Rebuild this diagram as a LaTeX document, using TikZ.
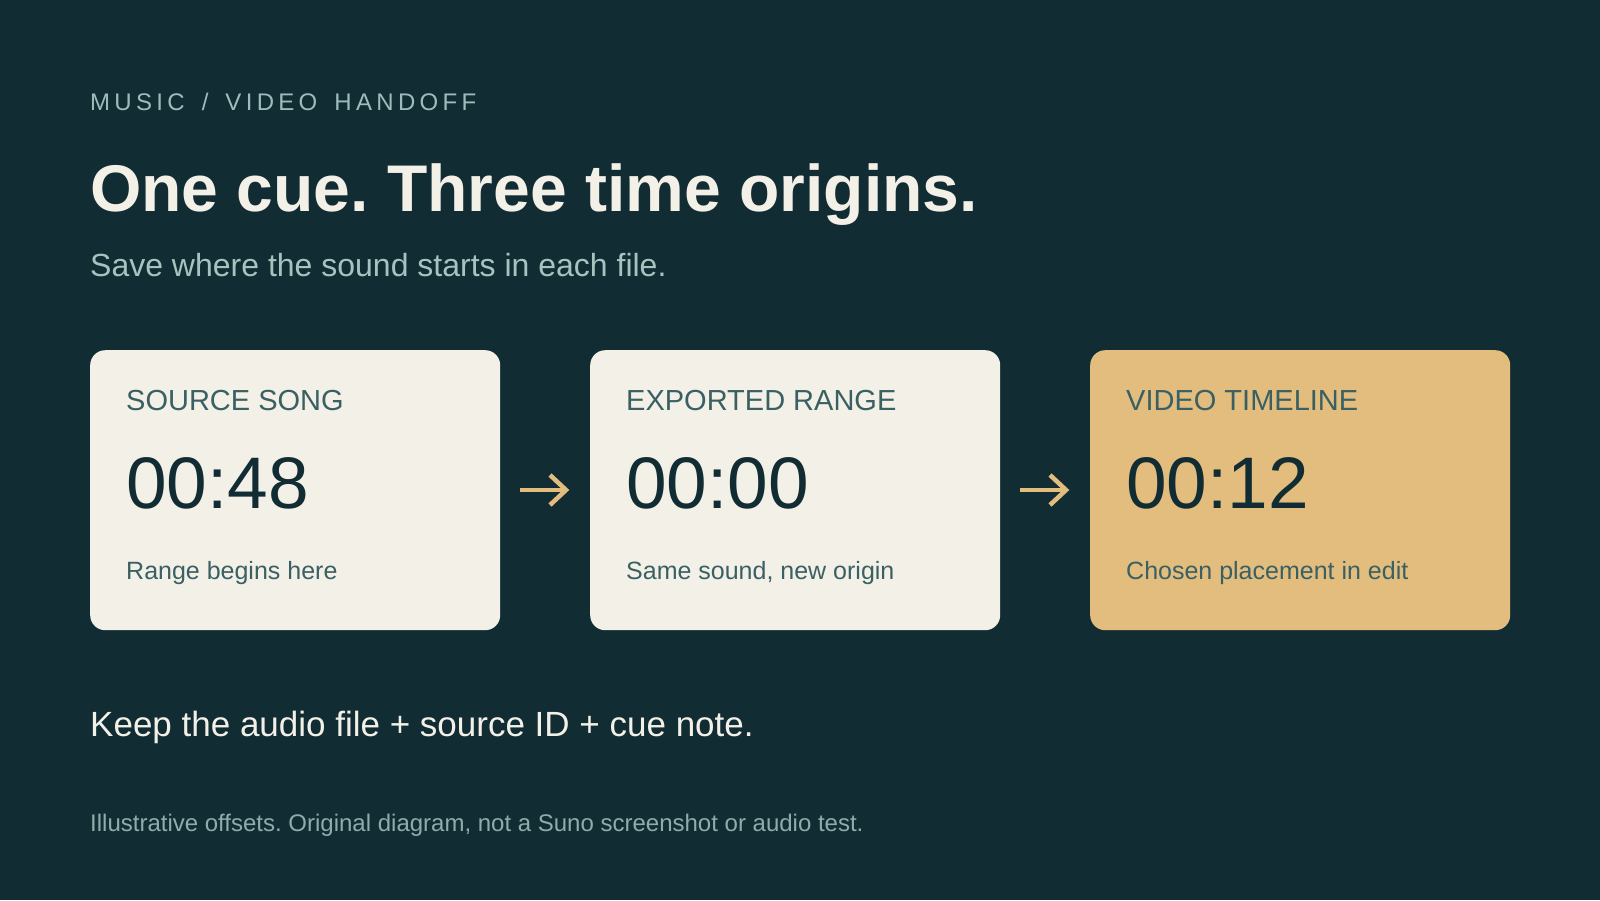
\documentclass[tikz,border=0pt]{standalone}
\usepackage{fontspec}
\setmainfont{Liberation Sans}
\newfontfamily\spacedfont[LetterSpace=18]{Liberation Sans}
\frenchspacing
\definecolor{bg}{HTML}{122C34}
\definecolor{cream}{HTML}{F3F0E8}
\definecolor{gold}{HTML}{E3BD7E}
\definecolor{kicker}{HTML}{9DBDBA}
\definecolor{subc}{HTML}{A8C3BF}
\definecolor{labelc}{HTML}{3A6063}
\definecolor{numc}{HTML}{122C34}
\definecolor{footc}{HTML}{8EADAA}
\newcommand{\kgap}{\hspace{6pt}}
\begin{document}
\begin{tikzpicture}[x=1pt,y=-1pt,
  card/.style={rounded corners=15pt, inner sep=0pt, anchor=north west},
  txt/.style={anchor=base west, inner sep=0pt},
  cardlabel/.style={txt, text=labelc, font=\fontsize{29}{33}\selectfont},
  bignum/.style={txt, text=numc, font=\fontsize{73}{80}\selectfont},
  caption/.style={txt, text=labelc, font=\fontsize{25}{29}\selectfont},
  flow/.style={draw=gold, line width=4.5pt, line cap=butt}
]
\useasboundingbox[fill=bg] (0,0) rectangle (1600,900);

\node[txt, text=kicker, font=\fontsize{24}{28}\selectfont\spacedfont] (kick) at (90,110) {MUSIC \kgap/ \kgap VIDEO \kgap HANDOFF};
\node[txt, text=cream, font=\fontsize{66}{72}\selectfont\bfseries] (title) at (90,211) {One cue. Three time origins.};
\node[txt, text=subc, font=\fontsize{32}{36}\selectfont] (sub) at (90,276) {Save where the sound starts in each file.};

\node[card, fill=cream, minimum width=410pt, minimum height=280pt] (c1) at (90,350) {};
\node[card, fill=cream, minimum width=410pt, minimum height=280pt] (c2) at (590,350) {};
\node[card, fill=gold, minimum width=420pt, minimum height=280pt] (c3) at (1090,350) {};

\node[cardlabel] (l1) at (126,410) {SOURCE SONG};
\node[bignum] (n1) at (126,508) {00:48};
\node[caption] (d1) at (126,579) {Range begins here};

\node[cardlabel] (l2) at (626,410) {EXPORTED RANGE};
\node[bignum] (n2) at (626,508) {00:00};
\node[caption] (d2) at (626,579) {Same sound, new origin};

\node[cardlabel] (l3) at (1126,410) {VIDEO TIMELINE};
\node[bignum] (n3) at (1126,508) {00:12};
\node[caption] (d3) at (1126,579) {Chosen placement in edit};

\coordinate (a1s) at (520,490);
\coordinate (a1e) at (566,490);
\coordinate (a2s) at (1020,490);
\coordinate (a2e) at (1066,490);
\draw[flow] (a1s) -- (a1e);
\draw[flow, line join=miter] ([xshift=-16pt,yshift=-15pt]a1e) -- (a1e) -- ([xshift=-16pt,yshift=15pt]a1e);
\draw[flow] (a2s) -- (a2e);
\draw[flow, line join=miter] ([xshift=-16pt,yshift=-15pt]a2e) -- (a2e) -- ([xshift=-16pt,yshift=15pt]a2e);

\node[txt, text=cream, font=\fontsize{35}{40}\selectfont] (keep) at (90,736) {Keep the audio file + source ID + cue note.};
\node[txt, text=footc, font=\fontsize{24}{28}\selectfont] (foot) at (90,831) {Illustrative offsets. Original diagram, not a Suno screenshot or audio test.};
\end{tikzpicture}
\end{document}
